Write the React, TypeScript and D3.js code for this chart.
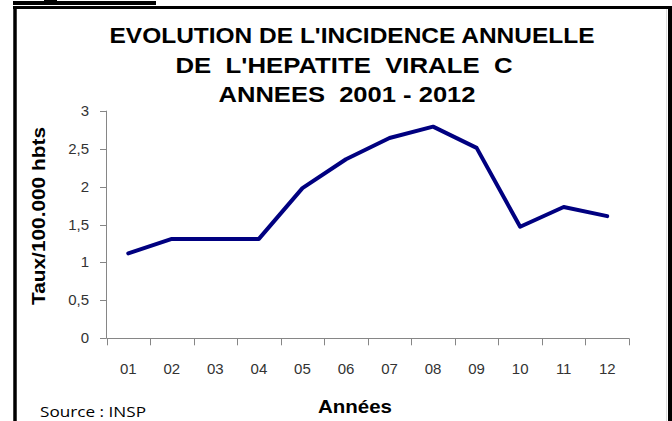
import React from 'react';
import * as d3 from 'd3';

const years = ['01', '02', '03', '04', '05', '06', '07', '08', '09', '10', '11', '12'];
const rates = [1.12, 1.31, 1.31, 1.31, 1.98, 2.36, 2.64, 2.79, 2.51, 1.47, 1.73, 1.61];
const yTicks = [0, 0.5, 1, 1.5, 2, 2.5, 3];
const titleLines = [
    "EVOLUTION DE L'INCIDENCE ANNUELLE",
    "DE  L'HEPATITE  VIRALE  C",
    'ANNEES  2001 - 2012',
];

const W = 672;
const H = 421;

const App: React.FC = () => {
    const x = d3.scaleBand<string>().domain(years).range([106.5, 629]).padding(0);
    const y = d3.scaleLinear().domain([0, 3]).range([338.3, 110.7]);

    const line = d3.line<number>()
        .x((_, i) => (x(years[i]) ?? 0) + x.bandwidth() / 2)
        .y(d => y(d));

    // tick positions on the x axis sit on the band edges
    const edges = years.map(c => x(c) ?? 0).concat([x.range()[1]]);
    const fmt = (v: number) => String(v).replace('.', ',');
    const titleWidths = [485, 337, 257];
    const titleCenters = [352, 344, 347];
    const titleBase = [43, 73, 102];

    return (
        <div style={{ position: 'fixed', left: 0, top: 0 }}>
            <svg width={W} height={H} style={{ display: 'block', background: '#fff' }}>
                {/* bit of the heading above the frame */}
                <rect x={13} y={1} width={143} height={4} fill="#000" />
                <rect x={44} y={0} width={13} height={2} fill="#000" />

                {/* frame */}
                <line x1={13} x2={672} y1={7.5} y2={7.5} stroke="#000" strokeWidth={3} />
                <line x1={15} x2={15} y1={6} y2={H} stroke="#000" strokeWidth={3.5} />
                <line x1={670} x2={670} y1={6} y2={H} stroke="#000" strokeWidth={4} />
                <line x1={666.5} x2={666.5} y1={9} y2={H} stroke="#ddd" strokeWidth={1} />

                {/* title */}
                {titleLines.map((t, i) => (
                    <text key={t} x={titleCenters[i]} y={titleBase[i]} textAnchor="middle"
                        fontFamily="'Liberation Sans', Arial, sans-serif" fontWeight="bold" fontSize={22}
                        textLength={titleWidths[i]} lengthAdjust="spacingAndGlyphs" fill="#000"
                        style={{ whiteSpace: 'pre' }}>
                        {t}
                    </text>
                ))}

                {/* y axis */}
                <line x1={106.5} x2={106.5} y1={y(3)} y2={y(0)} stroke="#868686" strokeWidth={1} />
                {yTicks.map(v => (
                    <g key={v}>
                        <line x1={100} x2={106.5} y1={Math.round(y(v)) + 0.5} y2={Math.round(y(v)) + 0.5} stroke="#868686" />
                        <text x={89} y={y(v) + 5} textAnchor="end" fontFamily="'Liberation Sans', Arial, sans-serif"
                            fontSize={15} fill="#333">{fmt(v)}</text>
                    </g>
                ))}

                {/* x axis */}
                <line x1={106.5} x2={629} y1={Math.round(y(0)) + 0.5} y2={Math.round(y(0)) + 0.5} stroke="#868686" />
                {edges.map((e, i) => (
                    <line key={i} x1={Math.round(e) + 0.5} x2={Math.round(e) + 0.5} y1={y(0)} y2={y(0) + 7} stroke="#868686" />
                ))}
                {years.map(c => (
                    <text key={c} x={(x(c) ?? 0) + x.bandwidth() / 2} y={374} textAnchor="middle"
                        fontFamily="'Liberation Sans', Arial, sans-serif" fontSize={15} fill="#333">{c}</text>
                ))}

                {/* series */}
                <path d={line(rates) ?? ''} fill="none" stroke="#000080" strokeWidth={4}
                    strokeLinejoin="round" strokeLinecap="round" />

                {/* axis titles */}
                <text transform="translate(45,216) rotate(-90)" textAnchor="middle"
                    fontFamily="'Liberation Sans', Arial, sans-serif" fontWeight="bold" fontSize={18}
                    textLength={178} lengthAdjust="spacingAndGlyphs" fill="#000">Taux/100.000 hbts</text>
                <text x={355} y={413} textAnchor="middle" fontFamily="'Liberation Sans', Arial, sans-serif"
                    fontWeight="bold" fontSize={19} textLength={74} lengthAdjust="spacingAndGlyphs" fill="#000">Années</text>
                <text x={40} y={417} fontFamily="'Open Sans', 'Noto Sans', sans-serif" fontSize={14}
                    textLength={106} lengthAdjust="spacingAndGlyphs" fill="#000">Source : INSP</text>
            </svg>
        </div>
    );
};

export default App;
